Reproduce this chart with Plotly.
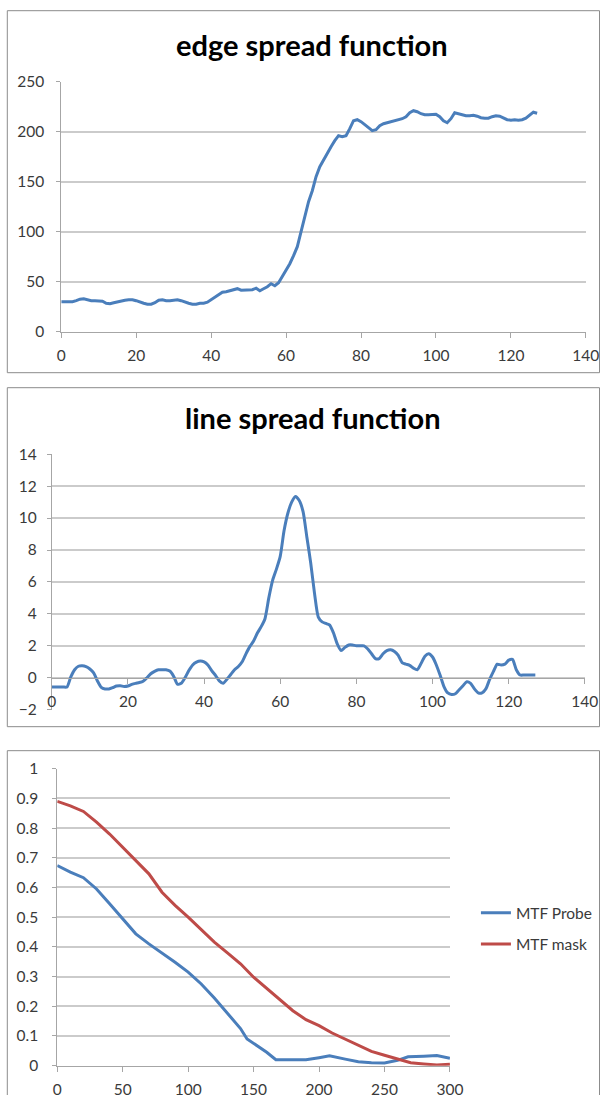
import plotly.graph_objects as go

W, H = 613, 1103

# ---------------- data ----------------
esf_x = list(range(128))
esf_y = [30, 30, 30, 30, 31, 32.5, 33, 32, 31, 31, 31, 30.5, 28.5, 28, 29, 30, 31, 31.5, 32, 32,
         31, 29.5, 28.5, 27.5, 27.5, 29, 31.5, 32, 31, 31, 31.5, 32, 31, 29.5, 28.5, 27.5, 27.5, 28.5, 28.5, 29.5,
         32, 35, 37, 39.5, 40, 41, 42, 43, 41.5, 41.5, 41.5, 42, 43.5, 41, 43, 45, 48, 46, 49, 55,
         61, 68, 76, 85, 100, 115, 130, 141, 155, 165, 172, 178, 185, 191, 196, 195, 196, 203, 211, 212,
         210, 207, 204, 201, 202, 206, 208, 209, 210, 211.5, 212.5, 213, 215, 219, 221, 220, 218, 217, 217, 217.5,
         217.5, 215, 211, 209, 213, 219, 218, 216.5, 216, 216, 216.5, 215.5, 214, 213.5, 213.5, 215, 216, 215.5, 213.5, 212,
         211.5, 212, 211.5, 212, 213.5, 217, 219.5, 218.5]

lsf_x = list(range(128))
lsf_y = [-0.58, -0.58, -0.58, -0.58, -0.58, 0.05, 0.5, 0.72, 0.75, 0.7, 0.55, 0.3, -0.2, -0.6, -0.7, -0.7,
         -0.62, -0.52, -0.5, -0.55, -0.52, -0.42, -0.35, -0.3, -0.22, 0.0, 0.25, 0.4, 0.5, 0.5, 0.5, 0.42,
         0.1, -0.4, -0.35, 0.0, 0.45, 0.8, 0.98, 1.05, 1.0, 0.8, 0.45, 0.15, -0.2, -0.35, -0.1, 0.2,
         0.5, 0.7, 1.0, 1.5, 1.95, 2.3, 2.8, 3.2, 3.7, 5.0, 6.1, 6.8, 7.6, 9.2, 10.3, 11.0,
         11.35, 11.1, 10.4, 8.8, 7.2, 5.3, 3.8, 3.5, 3.4, 3.3, 2.8, 2.1, 1.7, 1.9, 2.05, 2.05,
         2.0, 2.0, 2.0, 1.8, 1.5, 1.2, 1.2, 1.5, 1.7, 1.75, 1.65, 1.4, 0.95, 0.85, 0.78, 0.6,
         0.5, 0.9, 1.35, 1.5, 1.3, 0.8, 0.15, -0.55, -0.95, -1.05, -1.0, -0.75, -0.5, -0.25, -0.35, -0.7,
         -0.95, -0.95, -0.7, -0.1, 0.4, 0.85, 0.8, 0.85, 1.1, 1.15, 0.5, 0.17, 0.17, 0.17, 0.17, 0.17]

probe_x = [0, 10, 20, 30, 40, 50, 60, 70, 80, 90, 100, 110, 120, 130, 140, 145, 150, 155, 160, 167,
           180, 190, 200, 208, 220, 230, 240, 250, 260, 268, 280, 290, 300]
probe_y = [0.674, 0.652, 0.633, 0.595, 0.545, 0.494, 0.444, 0.41, 0.38, 0.348, 0.315, 0.275, 0.228, 0.178,
           0.125, 0.09, 0.075, 0.062, 0.045, 0.02, 0.02, 0.02, 0.027, 0.033, 0.022, 0.013, 0.01, 0.009,
           0.018, 0.03, 0.032, 0.034, 0.025]

mask_x = [0, 10, 20, 30, 40, 50, 60, 70, 80, 90, 100, 110, 120, 130, 140, 150, 160, 170, 180, 190,
          200, 210, 220, 230, 240, 250, 260, 270, 280, 290, 300]
mask_y = [0.89, 0.875, 0.856, 0.82, 0.78, 0.736, 0.69, 0.646, 0.584, 0.54, 0.5, 0.458, 0.416, 0.38,
          0.343, 0.298, 0.26, 0.225, 0.185, 0.155, 0.135, 0.11, 0.09, 0.07, 0.048, 0.035, 0.022, 0.01,
          0.006, 0.002, 0.005]

titles = ["edge spread function", "line spread function"]
series_names = ["MTF Probe", "MTF mask"]

esf_yticks = [0, 50, 100, 150, 200, 250]
esf_xticks = [0, 20, 40, 60, 80, 100, 120, 140]
lsf_yticks = [-2, 0, 2, 4, 6, 8, 10, 12, 14]
lsf_xticks = [0, 20, 40, 60, 80, 100, 120, 140]
mtf_yticks = [0, 0.1, 0.2, 0.3, 0.4, 0.5, 0.6, 0.7, 0.8, 0.9, 1]
mtf_yticktext = ["0", "0.1", "0.2", "0.3", "0.4", "0.5", "0.6", "0.7", "0.8", "0.9", "1"]
mtf_xticks = [0, 50, 100, 150, 200, 250, 300]

# ---------------- style ----------------
BLUE = "#4A7EBB"
RED = "#BE4B48"
GRID = "#CBCBCB"
AXIS = "#A6A6A6"
TXT = "#3A3A3A"
FONT = "Lato"

# calibration of target picture pixels -> page pixels (measured from earlier renders)
CX_OFF, CX_SCALE = 3.7, 0.9714
CY_OFF, CY_SCALE = 9.3, 0.9837


def px_x(t):
    p = (t - CX_OFF) / CX_SCALE
    return min(max(p / W, 0), 1)


def px_y(t):
    p = (t - CY_OFF) / CY_SCALE
    return min(max(1 - p / H, 0), 1)


fig = go.Figure()
fig.add_trace(go.Scatter(x=esf_x, y=esf_y, mode="lines", line=dict(color=BLUE, width=3),
                         xaxis="x", yaxis="y", showlegend=False))
fig.add_trace(go.Scatter(x=lsf_x, y=lsf_y, mode="lines", line=dict(color=BLUE, width=3, shape="spline", smoothing=0.6),
                         xaxis="x2", yaxis="y2", showlegend=False))
fig.add_trace(go.Scatter(x=probe_x, y=probe_y, mode="lines", name=series_names[0],
                         line=dict(color=BLUE, width=3), xaxis="x3", yaxis="y3", legendgroup="a"))
fig.add_trace(go.Scatter(x=mask_x, y=mask_y, mode="lines", name=series_names[1],
                         line=dict(color=RED, width=3), xaxis="x3", yaxis="y3", legendgroup="b"))

tickfont = dict(family=FONT, size=15.5, color=TXT)


def xax(dom, rng, ticks, anchor, position=None, standoff=5):
    d = dict(domain=dom, range=rng, tickvals=ticks, showgrid=False, zeroline=False,
             showline=True, linecolor=AXIS, linewidth=1, ticks="outside", ticklen=5,
             tickcolor=AXIS, tickfont=tickfont, ticklabelstandoff=standoff, fixedrange=True)
    if position is not None:
        d.update(anchor="free", position=position)
    else:
        d.update(anchor=anchor)
    return d


def yax(dom, rng, ticks, anchor, text=None, standoff=8):
    d = dict(domain=dom, range=rng, tickvals=ticks, showgrid=True, gridcolor=GRID, gridwidth=1.8,
             zeroline=False, showline=True, linecolor=AXIS, linewidth=1, ticks="outside", ticklen=4,
             tickcolor=AXIS, tickfont=tickfont, anchor=anchor, ticklabelstandoff=standoff, fixedrange=True)
    if text is not None:
        d["ticktext"] = text
    return d


# panel geometry (target pixels)
p1 = dict(l=60, r=585, t=81, b=331)
p2 = dict(l=50.5, r=584, t=453.5, b=709)
p3 = dict(l=56, r=449, t=768, b=1065)

d1x = [px_x(p1["l"]), px_x(p1["r"])]
d1y = [px_y(p1["b"]), px_y(p1["t"])]
d2x = [px_x(p2["l"]), px_x(p2["r"])]
d2y = [px_y(p2["b"]), px_y(p2["t"])]
d3x = [px_x(p3["l"]), px_x(p3["r"])]
d3y = [px_y(p3["b"]), px_y(p3["t"])]

lsf_range = [-2, 14]
zero_pos = d2y[0] + (0 - lsf_range[0]) / (lsf_range[1] - lsf_range[0]) * (d2y[1] - d2y[0])

fig.update_layout(
    width=W, height=H, margin=dict(l=0, r=0, t=0, b=0),
    paper_bgcolor="white", plot_bgcolor="white",
    xaxis=xax(d1x, [0, 140], esf_xticks, "y"),
    yaxis=yax(d1y, [0, 250], esf_yticks, "x", standoff=9),
    xaxis2=xax(d2x, [0, 140], lsf_xticks, "y2", position=zero_pos),
    yaxis2=yax(d2y, lsf_range, lsf_yticks, "x2", standoff=7),
    xaxis3=xax(d3x, [0, 300], mtf_xticks, "y3"),
    yaxis3=yax(d3y, [0, 1], mtf_yticks, "x3", text=mtf_yticktext, standoff=11),
    legend=dict(x=px_x(475), y=px_y(928), xanchor="left", yanchor="middle",
                font=dict(family=FONT, size=15.5, color=TXT), traceorder="grouped",
                tracegroupgap=8, itemwidth=30, bgcolor="rgba(0,0,0,0)"),
    showlegend=True,
)

# panel borders
BORDER = dict(color="#8C8C8C", width=1)
bx0, bx1 = px_x(6), min(px_x(610), 612.5 / W)
for (y0, y1) in [(10, 372), (387, 726)]:
    fig.add_shape(type="rect", xref="paper", yref="paper",
                  x0=bx0, x1=bx1, y0=px_y(y1), y1=px_y(y0),
                  line=BORDER, fillcolor="rgba(0,0,0,0)", layer="below")
# third panel: border continues past the bottom of the picture
fig.add_shape(type="path", xref="paper", yref="paper", layer="below", line=BORDER,
              path=f"M {bx0},0 L {bx0},{px_y(750)} L {bx1},{px_y(750)} L {bx1},0")

# titles
fig.add_annotation(text="<b>" + titles[0] + "</b>", xref="paper", yref="paper",
                   x=px_x(311), y=px_y(44), showarrow=False, xanchor="center", yanchor="middle",
                   font=dict(family=FONT, size=29, color="black"))
fig.add_annotation(text="<b>" + titles[1] + "</b>", xref="paper", yref="paper",
                   x=px_x(312), y=px_y(417), showarrow=False, xanchor="center", yanchor="middle",
                   font=dict(family=FONT, size=29, color="black"))

fig.write_html("out.html", config={"displayModeBar": False},
               post_script="document.body.style.margin='0';document.body.style.overflow='hidden';")
